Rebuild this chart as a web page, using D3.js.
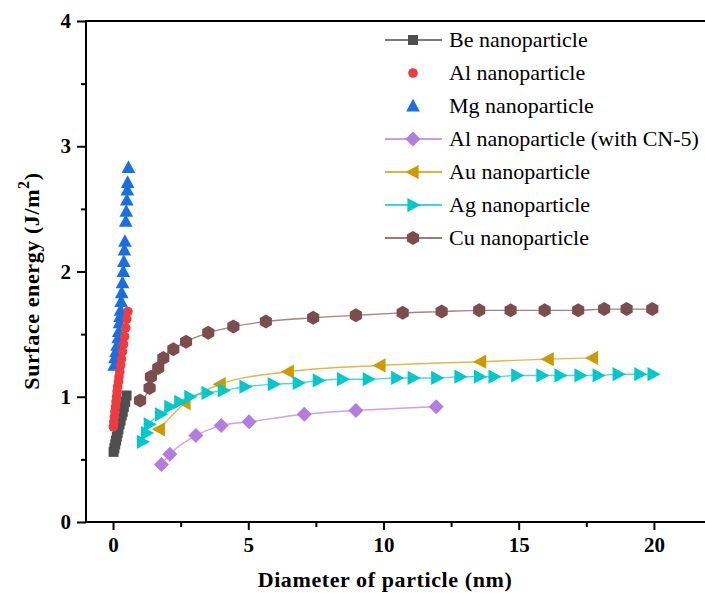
<!DOCTYPE html>
<html>
<head>
<meta charset="utf-8">
<script src="https://cdn.jsdelivr.net/npm/d3@7"></script>
<style>
  body { margin: 0; background: #fff; }
</style>
</head>
<body>
<div class="chart"></div>
<script>
// data
var beX = [0.02, 0.05, 0.08, 0.11, 0.14, 0.17, 0.20, 0.24, 0.28, 0.32, 0.36, 0.40, 0.45, 0.50];
var beY = [0.56, 0.59, 0.62, 0.65, 0.68, 0.71, 0.74, 0.78, 0.81, 0.85, 0.88, 0.92, 0.96, 1.01];

var alX = [0.01, 0.03, 0.05, 0.07, 0.09, 0.11, 0.13, 0.15, 0.17, 0.20, 0.22, 0.25, 0.28, 0.31, 0.35, 0.39, 0.43, 0.47, 0.51, 0.55];
var alY = [0.76, 0.80, 0.84, 0.88, 0.92, 0.96, 1.00, 1.04, 1.08, 1.12, 1.16, 1.20, 1.25, 1.30, 1.36, 1.42, 1.48, 1.55, 1.62, 1.68];

var mgX = [0.04, 0.07, 0.11, 0.15, 0.19, 0.21, 0.24, 0.26, 0.28, 0.30, 0.32, 0.35, 0.38, 0.40, 0.42, 0.44, 0.47, 0.49, 0.51, 0.53, 0.54, 0.57];
var mgY = [1.25, 1.31, 1.36, 1.41, 1.47, 1.52, 1.59, 1.64, 1.69, 1.76, 1.83, 1.91, 2.00, 2.08, 2.17, 2.24, 2.40, 2.48, 2.57, 2.65, 2.71, 2.83];

var cnX = [1.79, 2.10, 3.06, 4.00, 5.03, 7.07, 8.98, 11.95];
var cnY = [0.46, 0.54, 0.69, 0.77, 0.80, 0.86, 0.89, 0.92];

var auX = [1.71, 2.66, 3.96, 6.48, 9.87, 13.59, 16.09, 17.73];
var auY = [0.74, 0.95, 1.10, 1.20, 1.25, 1.28, 1.30, 1.31];

var agX = [1.09, 1.24, 1.34, 1.76, 2.10, 2.47, 2.84, 3.48, 4.08, 4.88, 5.93, 6.85, 7.59, 8.49, 9.44, 10.49, 11.10, 11.97, 12.83, 13.55, 14.09, 14.93, 15.86, 16.53, 17.27, 17.94, 18.68, 19.48, 19.97];
var agY = [0.64, 0.71, 0.78, 0.86, 0.92, 0.96, 1.00, 1.03, 1.05, 1.08, 1.10, 1.11, 1.13, 1.14, 1.14, 1.15, 1.15, 1.15, 1.16, 1.16, 1.16, 1.17, 1.17, 1.17, 1.17, 1.17, 1.18, 1.18, 1.18];

var cuX = [1.00, 1.35, 1.40, 1.67, 1.86, 2.23, 2.70, 3.52, 4.45, 5.65, 7.40, 8.98, 10.71, 12.15, 13.54, 14.70, 15.96, 17.20, 18.16, 18.99, 19.94];
var cuY = [0.97, 1.07, 1.16, 1.23, 1.31, 1.38, 1.44, 1.51, 1.56, 1.60, 1.63, 1.65, 1.67, 1.68, 1.69, 1.69, 1.69, 1.69, 1.70, 1.70, 1.70];

var xTicks = [0, 5, 10, 15, 20];
var yTicks = [0, 1, 2, 3, 4];

var width = 705, height = 593;
var mLeft = 86, mTop = 21, mBottom = 522, mRight = 708;
var serif = 'Liberation Serif';

function zip(xs, ys) { return xs.map(function(v, i){ return {x: v, y: ys[i]}; }); }

// marker shapes
function hexagon(r) {
    var p = [];
    for (var i = 0; i < 6; i++) {
        var a = Math.PI / 6 + i * Math.PI / 3;
        p.push([r * Math.cos(a), r * Math.sin(a)]);
    }
    return 'M' + p.join('L') + 'Z';
}
function tri(r, dir) {
    if (dir === 'up') return 'M0,' + (-r) + 'L' + (r * 0.95) + ',' + (r * 0.75) + 'L' + (-r * 0.95) + ',' + (r * 0.75) + 'Z';
    if (dir === 'left') return 'M' + (-r) + ',0L' + (r * 0.75) + ',' + (-r * 0.95) + 'L' + (r * 0.75) + ',' + (r * 0.95) + 'Z';
    return 'M' + r + ',0L' + (-r * 0.75) + ',' + (-r * 0.95) + 'L' + (-r * 0.75) + ',' + (r * 0.95) + 'Z';
}
var shapes = {
    square: function(){ return 'M-5,-5H5V5H-5Z'; },
    circle: function(){ return 'M4.8,0A4.8,4.8 0 1,1 -4.8,0A4.8,4.8 0 1,1 4.8,0Z'; },
    up: function(){ return tri(7.2, 'up'); },
    diamond: function(){ return 'M0,-7.5L7.5,0L0,7.5L-7.5,0Z'; },
    left: function(){ return tri(7.5, 'left'); },
    right: function(){ return tri(7.5, 'right'); },
    hex: function(){ return hexagon(7); }
};

var series = [
    {name: 'Mg nanoparticle', data: zip(mgX, mgY), color: '#1a6fe0', shape: 'up', line: false, order: 2},
    {name: 'Be nanoparticle', data: zip(beX, beY), color: '#4f4f4f', shape: 'square', line: true, order: 0},
    {name: 'Al nanoparticle', data: zip(alX, alY), color: '#ef3b3d', shape: 'circle', line: false, order: 1},
    {name: 'Al nanoparticle (with CN-5)', data: zip(cnX, cnY), color: '#b47be0', shape: 'diamond', line: true, order: 3},
    {name: 'Cu nanoparticle', data: zip(cuX, cuY), color: '#7b4d4d', shape: 'hex', line: true, order: 6},
    {name: 'Au nanoparticle', data: zip(auX, auY), color: '#cf9a00', shape: 'left', line: true, order: 4},
    {name: 'Ag nanoparticle', data: zip(agX, agY), color: '#00c9cc', shape: 'right', line: true, order: 5}
];

var svg = d3.select('.chart')
    .append('svg')
    .attr('width', width)
    .attr('height', height)
    .attr('font-family', serif);

var x = d3.scaleLinear().domain([-1, 22]).range([mLeft, mRight]);
var y = d3.scaleLinear().domain([0, 4]).range([mBottom, mTop]);

var lineGen = d3.line()
    .x(function(d){ return x(d.x); })
    .y(function(d){ return y(d.y); })
    .curve(d3.curveMonotoneX);

var plot = svg.append('g');

series.forEach(function(s){
    if (s.line) {
        plot.append('path')
            .attr('d', lineGen(s.data))
            .attr('fill', 'none')
            .attr('stroke', s.color)
            .attr('stroke-opacity', 0.7)
            .attr('stroke-width', 1.4);
    }
});

series.forEach(function(s){
    plot.selectAll(null)
        .data(s.data)
        .enter()
        .append('path')
        .attr('d', shapes[s.shape]())
        .attr('transform', function(d){ return 'translate(' + x(d.x) + ',' + y(d.y) + ')'; })
        .attr('fill', s.color);
});

// axes
var xAxis = d3.axisBottom(x).tickValues(xTicks).tickSize(8).tickPadding(7).tickFormat(d3.format('d'));
var xMinor = d3.axisBottom(x).tickValues([2.5, 7.5, 12.5, 17.5]).tickSize(5).tickFormat('');
var yAxis = d3.axisLeft(y).tickValues(yTicks).tickSize(9).tickPadding(6).tickFormat(d3.format('d'));
var yMinor = d3.axisLeft(y).tickValues([0.5, 1.5, 2.5, 3.5]).tickSize(5).tickFormat('');

function styleAxis(g) {
    g.attr('font-family', serif).attr('font-size', 21).attr('font-weight', 'bold');
    g.select('.domain').remove();
    g.selectAll('line').attr('stroke', '#000').attr('stroke-width', 2);
    g.selectAll('text').attr('fill', '#000');
}

svg.append('g').attr('transform', 'translate(0,' + mBottom + ')').call(xAxis).call(styleAxis);
svg.append('g').attr('transform', 'translate(0,' + mBottom + ')').call(xMinor).call(styleAxis);
svg.append('g').attr('transform', 'translate(' + mLeft + ',0)').call(yAxis).call(styleAxis);
svg.append('g').attr('transform', 'translate(' + mLeft + ',0)').call(yMinor).call(styleAxis);

// frame
svg.append('path')
    .attr('d', 'M' + mRight + ',' + mTop + 'H' + mLeft + 'V' + mBottom + 'H' + mRight)
    .attr('fill', 'none')
    .attr('stroke', '#000')
    .attr('stroke-width', 2);

// axis titles
svg.append('text')
    .attr('x', 385)
    .attr('y', 587)
    .attr('text-anchor', 'middle')
    .attr('font-family', serif)
    .attr('font-weight', 'bold')
    .attr('font-size', 22)
    .attr('letter-spacing', 0.6)
    .text('Diameter of particle (nm)');

var yt = svg.append('text')
    .attr('transform', 'translate(39,281) rotate(-90)')
    .attr('text-anchor', 'middle')
    .attr('font-family', serif)
    .attr('font-weight', 'bold')
    .attr('font-size', 22)
    .attr('letter-spacing', 0.6);
yt.append('tspan').text('Surface energy (J/m');
yt.append('tspan').attr('dy', -10).attr('font-size', 16).text('2');
yt.append('tspan').attr('dy', 10).text(')');

// legend
var legendRows = series.slice().sort(function(a, b){ return a.order - b.order; });
var legend = svg.append('g');
legendRows.forEach(function(s, i){
    var ly = 40 + i * 33;
    var g = legend.append('g').attr('transform', 'translate(0,' + ly + ')');
    if (s.line) {
        g.append('line')
            .attr('x1', 385).attr('x2', 442)
            .attr('y1', 0).attr('y2', 0)
            .attr('stroke', s.color)
            .attr('stroke-width', 1.4);
    }
    g.append('path')
        .attr('d', shapes[s.shape]())
        .attr('transform', 'translate(413,0)')
        .attr('fill', s.color);
    g.append('text')
        .attr('x', 449)
        .attr('y', 7)
        .attr('font-family', serif)
        .attr('font-size', 22)
        .text(s.name);
});
</script>
</body>
</html>
